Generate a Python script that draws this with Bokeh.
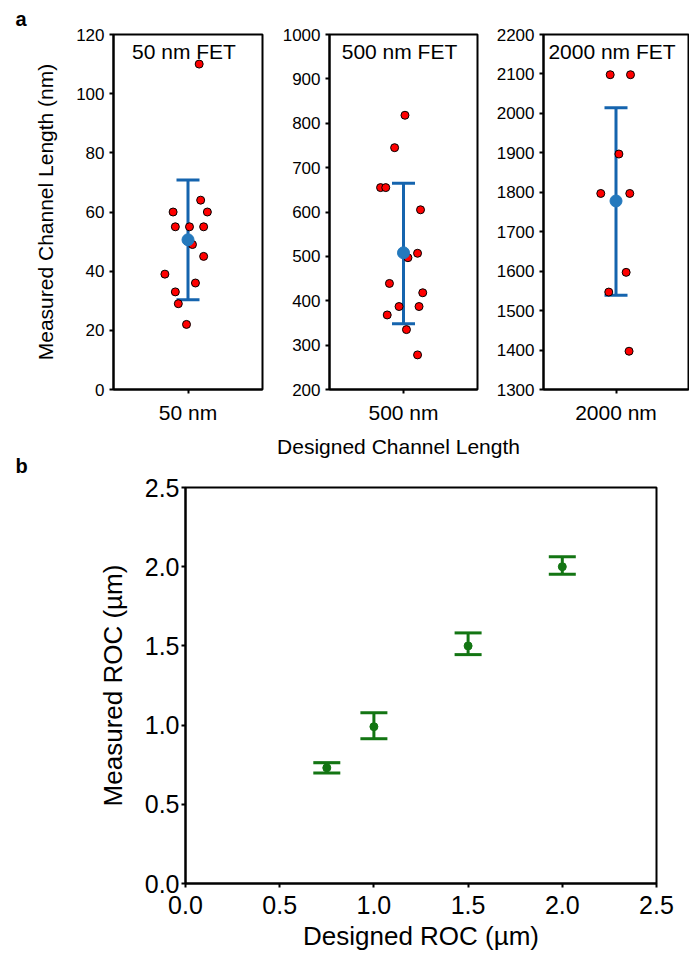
from bokeh.plotting import figure
from bokeh.layouts import column, row
from bokeh.models import (ColumnDataSource, Whisker, TeeHead, Range1d, FixedTicker,
                          Label, Title, SingleIntervalTicker, PrintfTickFormatter)
from bokeh.embed import file_html
from bokeh.resources import INLINE

# ---------------- data ----------------
categories = ["50 nm", "500 nm", "2000 nm"]
panel_titles = ["50 nm FET", "500 nm FET", "2000 nm FET"]

meas_50 = [110, 64, 60, 60, 55, 55, 55, 49, 45, 39, 33, 36, 29, 22]
jit_50 = [0.15, 0.17, -0.20, 0.26, -0.17, 0.02, 0.21, 0.06, 0.21, -0.31, -0.17, 0.10, -0.13, -0.02]

meas_500 = [818, 745, 655, 655, 605, 507, 497, 439, 418, 387, 387, 368, 335, 278]
jit_500 = [0.02, -0.12, -0.31, -0.24, 0.23, 0.19, 0.06, -0.19, 0.26, -0.06, 0.21, -0.22, 0.04, 0.19]

meas_2000 = [2098, 2098, 1897, 1797, 1797, 1597, 1547, 1397]
jit_2000 = [-0.08, 0.20, 0.04, -0.21, 0.19, 0.14, -0.10, 0.18]

mean_vals = [50.6, 508, 1778]
upper_vals = [70.8, 665, 2014]
lower_vals = [30.3, 348, 1539]

y_limits = [(0, 120), (200, 1000), (1300, 2200)]
y_steps = [20, 100, 100]

roc_designed = [0.75, 1.0, 1.5, 2.0]
roc_measured = [0.73, 0.99, 1.50, 2.00]
roc_upper = [0.763, 1.078, 1.582, 2.063]
roc_lower = [0.697, 0.914, 1.445, 1.952]

FONT = "Liberation Sans"
BLUE = "#1564ae"
BLUE_DOT = "#2479bd"
GREEN = "#137513"


def style_axes(p, tick_size, label_size):
    p.grid.visible = False
    p.outline_line_color = "black"
    p.outline_line_width = 2
    for ax in (p.xaxis[0], p.yaxis[0]):
        ax.axis_line_width = 2
        ax.axis_line_color = "black"
        ax.major_tick_line_width = 2
        ax.major_tick_line_color = "black"
        ax.major_tick_in = 0
        ax.major_tick_out = 4
        ax.minor_tick_line_color = None
        ax.major_label_text_font = FONT
        ax.major_label_text_font_size = tick_size
        ax.major_label_text_color = "black"
        ax.axis_label_text_font = FONT
        ax.axis_label_text_font_size = label_size
        ax.axis_label_text_font_style = "normal"
        ax.axis_label_text_color = "black"


meas_all = [meas_50, meas_500, meas_2000]
jit_all = [jit_50, jit_500, jit_2000]
frame_ws = [149, 148, 145]
borders = [(113, 5), (62, 5), (61, 1)]

panels = []
for i in range(3):
    bl, br = borders[i]
    p = figure(frame_width=frame_ws[i], frame_height=355,
               x_range=Range1d(-1, 1), y_range=Range1d(*y_limits[i]),
               output_backend="svg", toolbar_location=None,
               min_border_left=bl, min_border_right=br,
               min_border_top=34, min_border_bottom=40)
    style_axes(p, "17px", "21px")
    p.xaxis[0].ticker = FixedTicker(ticks=[0])
    p.xaxis[0].major_label_overrides = {0: categories[i]}
    p.xaxis[0].major_label_text_font_size = "21px"
    p.xaxis[0].major_label_standoff = 7
    p.yaxis[0].ticker = SingleIntervalTicker(interval=y_steps[i])
    p.yaxis[0].major_label_standoff = 5

    src = ColumnDataSource(dict(base=[0], upper=[upper_vals[i]], lower=[lower_vals[i]]))
    w = Whisker(base="base", upper="upper", lower="lower", source=src,
                dimension="height", line_color=BLUE, line_width=3, level="underlay",
                upper_head=TeeHead(size=23, line_color=BLUE, line_width=3),
                lower_head=TeeHead(size=23, line_color=BLUE, line_width=3))
    p.add_layout(w)
    p.scatter(jit_all[i], meas_all[i], size=8, fill_color="#ff0000",
              line_color="black", line_width=1)
    p.scatter([0], [mean_vals[i]], size=12, fill_color=BLUE_DOT, line_color=BLUE_DOT)

    p.add_layout(Label(x=0, y=y_limits[i][1], text=panel_titles[i], text_align="center",
                       text_baseline="top", x_offset=-4, y_offset=-5,
                       text_font=FONT, text_font_size="21px", text_color="black"))
    panels.append(p)

panels[0].yaxis[0].axis_label = "Measured Channel Length (nm)"
panels[0].yaxis[0].axis_label_standoff = 16
panels[0].add_layout(Title(text="a", align="left", offset=-98, standoff=10,
                           text_font=FONT, text_font_size="20px", text_line_height=1.0,
                           text_color="black", text_font_style="bold"), "above")

# ---------------- strip with shared x title of panel a and letter b ----------------
STRIP_W, STRIP_H = 681, 46
strip = figure(width=STRIP_W, height=STRIP_H, x_range=Range1d(0, STRIP_W),
               y_range=Range1d(0, STRIP_H), x_axis_location=None, y_axis_location=None,
               output_backend="svg", toolbar_location=None,
               min_border_left=0, min_border_right=0, min_border_top=0, min_border_bottom=0)
strip.grid.visible = False
strip.outline_line_color = None
strip.add_layout(Label(x=398, y=STRIP_H - 17, text="Designed Channel Length",
                       text_align="center", text_baseline="middle",
                       text_font=FONT, text_font_size="21px", text_color="black"))
strip.add_layout(Label(x=15, y=STRIP_H - 36, text="b", text_align="left",
                       text_baseline="middle", text_font=FONT, text_font_size="20px",
                       text_font_style="bold", text_color="black"))

# ---------------- panel b ----------------
pb = figure(frame_width=471, frame_height=396,
            x_range=Range1d(0, 2.5), y_range=Range1d(0, 2.5),
            output_backend="svg", toolbar_location=None,
            min_border_left=185, min_border_right=25,
            min_border_top=12, min_border_bottom=66)
style_axes(pb, "25px", "26px")
pb.xaxis[0].ticker = SingleIntervalTicker(interval=0.5)
pb.yaxis[0].ticker = SingleIntervalTicker(interval=0.5)
pb.xaxis[0].formatter = PrintfTickFormatter(format="%.1f")
pb.yaxis[0].formatter = PrintfTickFormatter(format="%.1f")
pb.xaxis[0].major_label_standoff = 8
pb.yaxis[0].major_label_standoff = 2
pb.xaxis[0].axis_label = "Designed ROC (µm)"
pb.yaxis[0].axis_label = "Measured ROC (µm)"
pb.xaxis[0].axis_label_standoff = 4
pb.yaxis[0].axis_label_standoff = 14

srcb = ColumnDataSource(dict(base=roc_designed, upper=roc_upper, lower=roc_lower))
wb = Whisker(base="base", upper="upper", lower="lower", source=srcb,
             dimension="height", line_color=GREEN, line_width=3, level="underlay",
             upper_head=TeeHead(size=27, line_color=GREEN, line_width=3),
             lower_head=TeeHead(size=27, line_color=GREEN, line_width=3))
pb.add_layout(wb)
pb.scatter(roc_designed, roc_measured, size=8, fill_color=GREEN, line_color=GREEN)

layout = column(row(*panels), row(strip), pb)
open("out.html", "w").write(file_html(layout, INLINE))
